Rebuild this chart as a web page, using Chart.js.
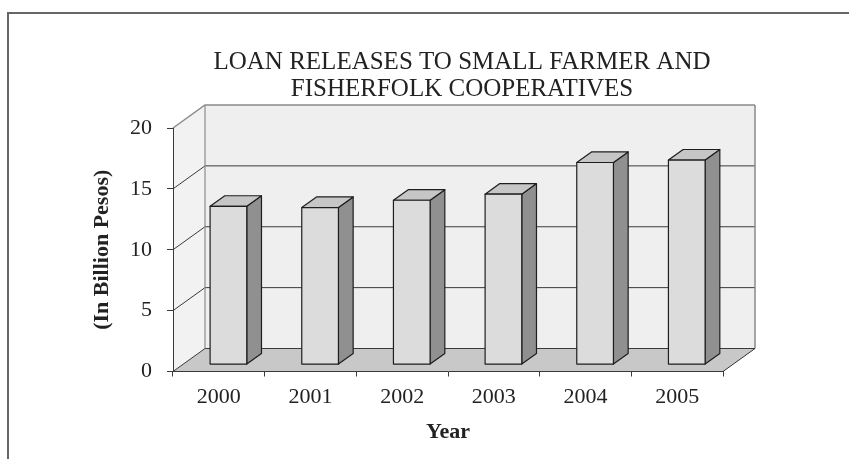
<!DOCTYPE html>
<html>
<head>
<meta charset="utf-8">
<title>Loan releases to small farmer and fisherfolk cooperatives</title>
<script src="https://cdn.jsdelivr.net/npm/chart.js@4.4.1/dist/chart.umd.min.js"></script>
<style>
  html, body { margin: 0; padding: 0; background: #fff; }
  #chart { display: block; }
</style>
</head>
<body>
<canvas id="chart" width="849" height="459"></canvas>
<script>
var years = ['2000', '2001', '2002', '2003', '2004', '2005'];
var loanReleases = [13.0, 12.9, 13.5, 14.0, 16.6, 16.8];
var yMin = 0, yMax = 20, yStep = 5;
var chartTitle = ['LOAN RELEASES TO SMALL FARMER AND', 'FISHERFOLK COOPERATIVES'];
var yTitle = '(In Billion Pesos)';
var xTitle = 'Year';

// fake 3d: how far the back wall sits from the front plane
var DEPTH_X = 32, DEPTH_Y = -23;
var BAR_FRONT = 0.3, BAR_BACK = 0.76;
var SERIF = '"Liberation Serif", "Times New Roman", serif';
var INK = '#222';

function poly(ctx, pts, fill, stroke, lw) {
  ctx.beginPath();
  ctx.moveTo(pts[0][0], pts[0][1]);
  for (var i = 1; i < pts.length; i++) ctx.lineTo(pts[i][0], pts[i][1]);
  ctx.closePath();
  if (fill) { ctx.fillStyle = fill; ctx.fill(); }
  if (stroke) { ctx.strokeStyle = stroke; ctx.lineWidth = lw || 1; ctx.stroke(); }
}

function seg(ctx, pts, color, lw) {
  ctx.beginPath();
  ctx.moveTo(pts[0][0], pts[0][1]);
  for (var i = 1; i < pts.length; i++) ctx.lineTo(pts[i][0], pts[i][1]);
  ctx.strokeStyle = color;
  ctx.lineWidth = lw || 1;
  ctx.stroke();
}

var box3d = {
  id: 'box3d',
  beforeDraw: function(chart) {
    var ctx = chart.ctx, a = chart.chartArea, ys = chart.scales.y;
    var L = a.left, R = a.right, T = a.top, B = a.bottom;
    var DX = DEPTH_X, DY = DEPTH_Y;
    ctx.save();
    // outer frame
    seg(ctx, [[8, chart.height], [8, 13], [chart.width, 13]], '#666', 2);
    // walls and floor
    poly(ctx, [[L, T], [L + DX, T + DY], [L + DX, B + DY], [L, B]], '#f2f2f2');
    poly(ctx, [[L + DX, T + DY], [R + DX, T + DY], [R + DX, B + DY], [L + DX, B + DY]], '#efefef');
    poly(ctx, [[L, B], [L + DX, B + DY], [R + DX, B + DY], [R, B]], '#c8c8c8');
    // gridlines on back wall + side wall
    ys.ticks.forEach(function(t) {
      var py = ys.getPixelForValue(t.value);
      var c = t.value === yMax ? '#8a8a8a' : '#3a3a3a';
      seg(ctx, [[L, py], [L + DX, py + DY], [R + DX, py + DY]], c, t.value === yMax ? 1.5 : 1);
    });
    seg(ctx, [[L + DX, T + DY], [L + DX, B + DY]], '#8a8a8a', 1.2);
    seg(ctx, [[R + DX, T + DY], [R + DX, B + DY]], '#8a8a8a', 1.5);
    seg(ctx, [[R, B], [R + DX, B + DY]], '#333', 1);
    ctx.restore();
  },
  beforeDatasetsDraw: function(chart) {
    var ctx = chart.ctx;
    var fx = DEPTH_X * BAR_FRONT, fy = DEPTH_Y * BAR_FRONT;
    var dx = DEPTH_X * (BAR_BACK - BAR_FRONT), dy = DEPTH_Y * (BAR_BACK - BAR_FRONT);
    ctx.save();
    ctx.lineJoin = 'round';
    chart.getDatasetMeta(0).data.forEach(function(bar) {
      var p = bar.getProps(['x', 'y', 'base', 'width'], true);
      var x0 = p.x - p.width / 2 + fx, x1 = p.x + p.width / 2 + fx;
      var yt = p.y + fy, yb = p.base + fy;
      poly(ctx, [[x1, yt], [x1 + dx, yt + dy], [x1 + dx, yb + dy], [x1, yb]], '#909090', '#1e1e1e', 1.2);
      poly(ctx, [[x0, yt], [x0 + dx, yt + dy], [x1 + dx, yt + dy], [x1, yt]], '#c6c6c6', '#1e1e1e', 1.2);
      poly(ctx, [[x0, yt], [x1, yt], [x1, yb], [x0, yb]], '#dcdcdc', '#1e1e1e', 1.2);
    });
    ctx.restore();
    return false;
  }
};

new Chart(document.getElementById('chart'), {
  type: 'bar',
  data: {
    labels: years,
    datasets: [{
      label: 'Loan releases',
      data: loanReleases,
      backgroundColor: '#dcdcdc',
      categoryPercentage: 1,
      barPercentage: 0.4
    }]
  },
  options: {
    responsive: false,
    animation: false,
    devicePixelRatio: 1,
    layout: { padding: { left: 75, right: 0, top: 0, bottom: 0 } },
    plugins: {
      legend: { display: false },
      tooltip: { enabled: false },
      title: {
        display: true,
        text: chartTitle,
        color: INK,
        font: { family: SERIF, size: 25, weight: 'normal', lineHeight: 1.08 },
        padding: { top: 48.5, bottom: 25.5 }
      }
    },
    scales: {
      x: {
        grid: { drawOnChartArea: false, drawTicks: true, tickLength: 5, color: '#3a3a3a', offset: true },
        border: { display: true, color: '#3a3a3a', width: 1 },
        ticks: { color: INK, font: { family: SERIF, size: 22 }, padding: 8, maxRotation: 0 },
        title: { display: true, text: xTitle, color: INK, font: { family: SERIF, size: 22, weight: 'bold' }, padding: { top: 0, bottom: 13 } },
        afterFit: function(s) { s.height = 87.5; }
      },
      y: {
        min: yMin,
        max: yMax,
        grid: { drawOnChartArea: false, drawTicks: true, tickLength: 6, color: '#3a3a3a' },
        border: { display: true, color: '#3a3a3a', width: 1 },
        ticks: { stepSize: yStep, color: INK, font: { family: SERIF, size: 22 }, padding: 15 },
        title: { display: true, text: yTitle, color: INK, font: { family: SERIF, size: 22, weight: 'bold' }, padding: { top: 14, bottom: 0 } },
        afterFit: function(s) { s.width = 98; }
      },
      yr: {
        type: 'linear',
        position: 'right',
        grid: { display: false },
        border: { display: false },
        ticks: { display: false },
        afterFit: function(s) { s.width = 126; }
      }
    }
  },
  plugins: [box3d]
});
</script>
</body>
</html>
